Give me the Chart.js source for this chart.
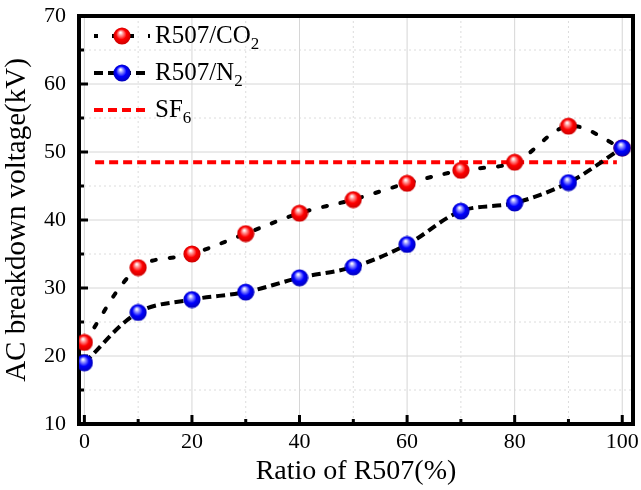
<!DOCTYPE html>
<html>
<head>
<meta charset="utf-8">
<script src="https://cdn.jsdelivr.net/npm/chart.js@4"></script>
<style>
  html, body { margin: 0; padding: 0; background: #fff; }
  #wrap { width: 641px; height: 490px; }
</style>
</head>
<body>
<div id="wrap"><canvas id="c" width="641" height="490"></canvas></div>
<script>
// data
const ratios = [0, 10, 20, 30, 40, 50, 60, 70, 80, 90, 100];
const co2Voltage = [22.0, 33.0, 35.0, 38.0, 41.0, 43.0, 45.4, 47.3, 48.5, 53.8, 50.6];
const n2Voltage = [19.0, 26.4, 28.3, 29.4, 31.5, 33.1, 36.4, 41.3, 42.5, 45.5, 50.6];
const sf6Level = 48.5;
const sf6Span = [2, 99];

const xMajor = [0, 20, 40, 60, 80, 100];
const xMinor = [10, 30, 50, 70, 90];
const yMajor = [10, 20, 30, 40, 50, 60, 70];
const yMinor = [15, 25, 35, 45, 55, 65];

const FONT = '"Liberation Serif", "Times New Roman", serif';

// shiny ball markers
function ball(light, mid, dark) {
  const c = document.createElement('canvas');
  c.width = 18; c.height = 18;
  const g = c.getContext('2d');
  const grad = g.createRadialGradient(7.5, 5.5, 0.5, 9, 9, 9);
  grad.addColorStop(0, '#ffffff');
  grad.addColorStop(0.2, light);
  grad.addColorStop(0.55, mid);
  grad.addColorStop(1, dark);
  g.fillStyle = grad;
  g.beginPath();
  g.arc(9, 9, 8.6, 0, Math.PI * 2);
  g.fill();
  return c;
}
const redBall = ball('#ff9a9a', '#ff0000', '#c80000');
const blueBall = ball('#9a9aff', '#0000ff', '#0000b4');

// grid, frame and inward ticks
const framePlugin = {
  id: 'frame',
  beforeDatasetsDraw(chart) {
    const { ctx, chartArea: a, scales: { x, y } } = chart;
    ctx.save();
    ctx.lineWidth = 1;
    ctx.strokeStyle = '#dcdcdc';
    ctx.setLineDash([2, 3]);
    xMinor.forEach(v => { const p = x.getPixelForValue(v); ctx.beginPath(); ctx.moveTo(p, a.top); ctx.lineTo(p, a.bottom); ctx.stroke(); });
    yMinor.forEach(v => { const p = y.getPixelForValue(v); ctx.beginPath(); ctx.moveTo(a.left, p); ctx.lineTo(a.right, p); ctx.stroke(); });
    ctx.setLineDash([]);
    ctx.strokeStyle = '#d6d6d6';
    xMajor.forEach(v => { const p = x.getPixelForValue(v); ctx.beginPath(); ctx.moveTo(p, a.top); ctx.lineTo(p, a.bottom); ctx.stroke(); });
    yMajor.forEach(v => { const p = y.getPixelForValue(v); ctx.beginPath(); ctx.moveTo(a.left, p); ctx.lineTo(a.right, p); ctx.stroke(); });

    ctx.strokeStyle = '#000';
    ctx.lineWidth = 3;
    xMajor.forEach(v => { const p = x.getPixelForValue(v); ctx.beginPath(); ctx.moveTo(p, a.bottom); ctx.lineTo(p, a.bottom - 9); ctx.stroke(); });
    xMinor.forEach(v => { const p = x.getPixelForValue(v); ctx.beginPath(); ctx.moveTo(p, a.bottom); ctx.lineTo(p, a.bottom - 5); ctx.stroke(); });
    yMajor.forEach(v => { const p = y.getPixelForValue(v); ctx.beginPath(); ctx.moveTo(a.left, p); ctx.lineTo(a.left + 9, p); ctx.stroke(); });
    yMinor.forEach(v => { const p = y.getPixelForValue(v); ctx.beginPath(); ctx.moveTo(a.left, p); ctx.lineTo(a.left + 5, p); ctx.stroke(); });
    ctx.lineWidth = 4;
    ctx.strokeRect(a.left, a.top, a.right - a.left, a.bottom - a.top);
    ctx.restore();
  },
  afterDraw(chart) {
    const ctx = chart.ctx;
    const rows = [
      { y: 36, dash: [4, 14], color: '#000', ball: redBall, text: 'R507/CO', sub: '2' },
      { y: 73, dash: [9, 5], color: '#000', ball: blueBall, text: 'R507/N', sub: '2' },
      { y: 110, dash: [9, 5], color: '#ff0000', ball: null, text: 'SF', sub: '6' }
    ];
    ctx.save();
    rows.forEach(r => {
      ctx.strokeStyle = r.color;
      ctx.lineWidth = 4;
      ctx.setLineDash(r.dash);
      ctx.beginPath();
      ctx.moveTo(94, r.y);
      ctx.lineTo(150, r.y);
      ctx.stroke();
      if (r.ball) ctx.drawImage(r.ball, 122 - 9, r.y - 9);
      ctx.fillStyle = '#000';
      ctx.textBaseline = 'middle';
      ctx.font = '25px ' + FONT;
      ctx.fillText(r.text, 155, r.y);
      const w = ctx.measureText(r.text).width;
      ctx.font = '17px ' + FONT;
      ctx.fillText(r.sub, 155 + w, r.y + 9);
    });
    ctx.restore();
  }
};

new Chart(document.getElementById('c'), {
  type: 'line',
  data: {
    datasets: [
      {
        label: 'SF6',
        data: sf6Span.map(v => ({ x: v, y: sf6Level })),
        borderColor: '#ff0000',
        borderWidth: 4,
        borderDash: [9, 5],
        pointRadius: 0,
        tension: 0,
        order: 3
      },
      {
        label: 'R507/CO2',
        data: ratios.map((r, i) => ({ x: r, y: co2Voltage[i] })),
        borderColor: '#000',
        borderWidth: 4,
        borderDash: [4, 14],
        borderCapStyle: 'round',
        pointStyle: redBall,
        tension: 0.35,
        order: 2
      },
      {
        label: 'R507/N2',
        data: ratios.map((r, i) => ({ x: r, y: n2Voltage[i] })),
        borderColor: '#000',
        borderWidth: 4,
        borderDash: [9, 5],
        pointStyle: blueBall,
        tension: 0.35,
        order: 1
      }
    ]
  },
  options: {
    responsive: false,
    animation: false,
    layout: { padding: { top: 16, right: 8, left: 0, bottom: 0 } },
    plugins: { legend: { display: false }, tooltip: { enabled: false } },
    scales: {
      x: {
        type: 'linear',
        min: -1,
        max: 102,
        afterBuildTicks: s => { s.ticks = xMajor.map(v => ({ value: v })); },
        afterFit: s => { s.height = 66; s.paddingLeft = 0; s.paddingRight = 0; },
        grid: { display: false, drawTicks: false },
        border: { display: false },
        ticks: { color: '#000', padding: 5, font: { family: FONT, size: 22 } },
        title: { display: true, text: 'Ratio of R507(%)', color: '#000', padding: { top: 0, bottom: 2 }, font: { family: FONT, size: 28 } }
      },
      y: {
        type: 'linear',
        min: 10,
        max: 70,
        afterBuildTicks: s => { s.ticks = yMajor.map(v => ({ value: v })); },
        afterFit: s => { s.width = 79; s.paddingTop = 0; s.paddingBottom = 0; },
        grid: { display: false, drawTicks: false },
        border: { display: false },
        ticks: { color: '#000', padding: 13, font: { family: FONT, size: 22 } },
        title: { display: true, text: 'AC breakdown voltage(kV)', color: '#000', padding: { top: 0, bottom: 4 }, font: { family: FONT, size: 29 } }
      }
    }
  },
  plugins: [framePlugin]
});
</script>
</body>
</html>
